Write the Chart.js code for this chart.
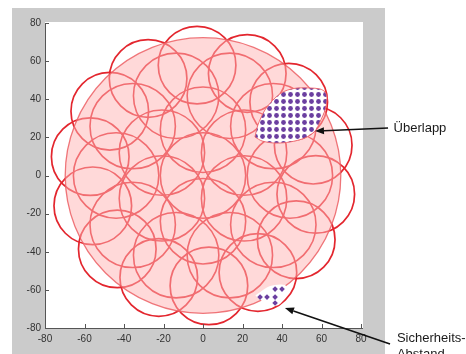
<!DOCTYPE html>
<html><head><meta charset="utf-8">
<script src="https://cdn.jsdelivr.net/npm/chart.js@4.4.1/dist/chart.umd.min.js"></script>
<style>html,body{margin:0;padding:0;background:#fff;}#c{display:block;}</style>
</head><body>
<canvas id="c" width="466" height="354"></canvas>
<script>
// ---- axis ticks
const xTicks = [-80, -60, -40, -20, 0, 20, 40, 60, 80];
const yTicks = [-80, -60, -40, -20, 0, 20, 40, 60, 80];

// ---- inner circles (centre x, centre y, radius) in data units
const innerX = [0, 20.8, 0, -20.8, -20.8, 0, 20.8, 44, 35.6, 13.6, -13.6, -35.6, -44, -35.6, -13.6, 13.6, 35.6];
const innerY = [0, 12, 24, 12, -12, -24, -12, 0, 25.9, 41.8, 41.8, 25.9, 0, -25.9, -41.8, -41.8, -25.9];
const innerR = [22, 22, 22, 22, 22, 22, 22, 22, 22, 22, 22, 22, 22, 22, 22, 22, 22];

// ---- outer ring of circles
const outerX = [-3.0, -27.8, -47.2, -57.1, -55.8, -43.4, -22.4, 3.0, 27.8, 47.2, 57.1, 55.8, 43.4, 22.4];
const outerY = [57.9, 50.9, 33.7, 9.9, -15.9, -38.5, -53.5, -57.9, -50.9, -33.7, -9.9, 15.9, 38.5, 53.5];
const outerR = [20, 20, 20, 20, 20, 20, 20, 20, 20, 20, 20, 20, 20, 20];

// ---- covered area (pink disc)
const areaX = [0];
const areaY = [0];
const areaR = [71];

// ---- overlap lens (Überlapp) outline
const lensX = [26.3, 27.8, 31.4, 36.5, 41.5, 47.6, 54.2, 59.2, 61.8, 62.8, 61.8, 59.2, 56.7, 51.6, 44.1, 36.5, 29.9, 26.3];
const lensY = [20.2, 26.5, 34.4, 40.7, 44.3, 45.9, 45.9, 45.4, 43.8, 40.7, 34.4, 28.1, 23.3, 19.7, 17.6, 17.0, 18.1, 20.2];

// ---- safety gap (Sicherheits-Abstand) notch and markers
const gapX = [26.5, 34.0, 41.5, 42.5, 38.0, 31.0, 26.5];
const gapY = [-63.0, -58.0, -57.5, -62.0, -68.0, -66.5, -63.0];
const dotX = [36.5, 40.0, 28.9, 32.4, 36.5, 36.5];
const dotY = [-59.6, -59.6, -63.8, -63.8, -63.8, -66.9];

// ---- annotations
const noteText = [['Überlapp'], ['Sicherheits-', 'Abstand']];
const noteX = [96.5, 98.2];
const noteY = [24.9, -85.3];
const arrowTipX = [56.7, 41.5];
const arrowTipY = [23.3, -69.5];
const arrowTailX = [93.7, 94.7];
const arrowTailY = [24.9, -88.4];

const RED = '#E3262E';
const PURPLE = '#6B3FA0';

function pts(xs, ys, rs) { return xs.map((x, i) => rs ? {x, y: ys[i], r: rs[i]} : {x, y: ys[i]}); }
function unit(chart) {
  const sx = chart.scales.x, sy = chart.scales.y;
  return (Math.abs(sx.getPixelForValue(1) - sx.getPixelForValue(0)) + Math.abs(sy.getPixelForValue(1) - sy.getPixelForValue(0))) / 2;
}
const radiusFn = (c) => (c.raw && c.raw.r ? c.raw.r * unit(c.chart) : 0);

// dot pattern for the overlap lens
const tile = document.createElement('canvas');
tile.width = 7; tile.height = 7;
const tctx = tile.getContext('2d');
tctx.fillStyle = '#ffffff'; tctx.fillRect(0, 0, 7, 7);
tctx.fillStyle = PURPLE; tctx.beginPath(); tctx.arc(3.5, 3.5, 2.4, 0, Math.PI * 2); tctx.fill();
const dotPattern = tctx.createPattern(tile, 'repeat');

const figurePlugin = {
  id: 'figure',
  beforeDraw(chart) {
    const {ctx, chartArea: a} = chart;
    ctx.save();
    ctx.fillStyle = '#ffffff'; ctx.fillRect(0, 0, chart.width, chart.height);
    ctx.fillStyle = '#cbcbcb'; ctx.fillRect(12, 8, 373, chart.height - 8);
    ctx.fillStyle = '#ffffff'; ctx.fillRect(a.left, a.top - 1, a.right - a.left + 2, a.bottom - a.top + 1);
    ctx.restore();
  },
  afterDatasetsDraw(chart) {
    const {ctx, chartArea: a, scales: {x, y}} = chart;
    ctx.save();
    ctx.strokeStyle = '#555555'; ctx.lineWidth = 1;
    ctx.beginPath();
    ctx.moveTo(a.left + 0.5, a.top); ctx.lineTo(a.left + 0.5, a.bottom + 0.5);
    ctx.lineTo(a.right + 2, a.bottom + 0.5);
    xTicks.forEach(v => { const p = Math.round(x.getPixelForValue(v)) + 0.5; ctx.moveTo(p, a.bottom); ctx.lineTo(p, a.bottom - 4); });
    yTicks.forEach(v => { const p = Math.round(y.getPixelForValue(v)) + 0.5; ctx.moveTo(a.left, p); ctx.lineTo(a.left + 4, p); });
    ctx.stroke();
    ctx.restore();
  },
  afterDraw(chart) {
    const {ctx, scales: {x, y}} = chart;
    ctx.save();
    ctx.strokeStyle = '#111'; ctx.fillStyle = '#111'; ctx.lineWidth = 1.6;
    arrowTipX.forEach((tx, i) => {
      const x1 = x.getPixelForValue(arrowTailX[i]), y1 = y.getPixelForValue(arrowTailY[i]);
      const x2 = x.getPixelForValue(tx), y2 = y.getPixelForValue(arrowTipY[i]);
      const ang = Math.atan2(y2 - y1, x2 - x1);
      const L = 9, W = 3.5;
      const bx = x2 - L * Math.cos(ang), by = y2 - L * Math.sin(ang);
      ctx.beginPath(); ctx.moveTo(x1, y1); ctx.lineTo(bx, by); ctx.stroke();
      ctx.beginPath();
      ctx.moveTo(x2, y2);
      ctx.lineTo(bx + W * Math.sin(ang), by - W * Math.cos(ang));
      ctx.lineTo(bx - W * Math.sin(ang), by + W * Math.cos(ang));
      ctx.closePath(); ctx.fill();
    });
    ctx.font = '13px "Liberation Sans", Arial, sans-serif';
    ctx.fillStyle = '#1a1a1a'; ctx.textAlign = 'left'; ctx.textBaseline = 'middle';
    noteText.forEach((lines, i) => {
      const px = x.getPixelForValue(noteX[i]), py = y.getPixelForValue(noteY[i]);
      lines.forEach((t, j) => ctx.fillText(t, px, py + j * 16));
    });
    ctx.restore();
  }
};

const tickFont = {family: '"Liberation Sans", Arial, sans-serif', size: 10};

new Chart(document.getElementById('c'), {
  type: 'scatter',
  data: {
    datasets: [
      { // safety gap markers
        data: pts(dotX, dotY), order: 0,
        pointStyle: 'rectRot', pointRadius: 2.8, pointBackgroundColor: PURPLE, pointBorderWidth: 0
      },
      { // gap notch (white)
        data: pts(gapX, gapY), order: 1, showLine: true, fill: 'shape', tension: 0.3,
        backgroundColor: '#ffffff', borderWidth: 0, pointRadius: 0
      },
      { // overlap lens
        data: pts(lensX, lensY), order: 2, showLine: true, fill: 'shape', tension: 0.3,
        backgroundColor: dotPattern, borderColor: 'rgba(238,100,105,0.9)', borderWidth: 1, pointRadius: 0
      },
      { // pink covered area
        data: pts(areaX, areaY, areaR), order: 3,
        pointRadius: radiusFn, pointBackgroundColor: 'rgba(255,180,180,0.5)',
        pointBorderColor: 'rgba(236,95,100,0.85)', pointBorderWidth: 1.3
      },
      { // inner circles
        data: pts(innerX, innerY, innerR), order: 4,
        pointRadius: radiusFn, pointBackgroundColor: 'rgba(0,0,0,0)',
        pointBorderColor: RED, pointBorderWidth: 1.6
      },
      { // outer ring circles
        data: pts(outerX, outerY, outerR), order: 5,
        pointRadius: radiusFn, pointBackgroundColor: 'rgba(0,0,0,0)',
        pointBorderColor: RED, pointBorderWidth: 1.7
      }
    ]
  },
  options: {
    responsive: false, animation: false, events: [], devicePixelRatio: 1,
    layout: {padding: {left: 0, right: 105, top: 23, bottom: 0}},
    plugins: {legend: {display: false}, tooltip: {enabled: false}},
    scales: {
      x: {
        type: 'linear', min: -80, max: 80,
        afterBuildTicks: (s) => { s.ticks = xTicks.map(v => ({value: v})); },
        afterFit: (s) => { s.height = 26; },
        grid: {display: false, drawTicks: false, tickLength: 0}, border: {display: false},
        ticks: {autoSkip: false, maxRotation: 0, padding: 5, color: '#333333', font: tickFont}
      },
      y: {
        type: 'linear', min: -80, max: 80,
        afterBuildTicks: (s) => { s.ticks = yTicks.map(v => ({value: v})); },
        afterFit: (s) => { s.width = 45; },
        grid: {display: false, drawTicks: false, tickLength: 0}, border: {display: false},
        ticks: {autoSkip: false, padding: 4, color: '#333333', font: tickFont}
      }
    }
  },
  plugins: [figurePlugin]
});
</script>
</body></html>
